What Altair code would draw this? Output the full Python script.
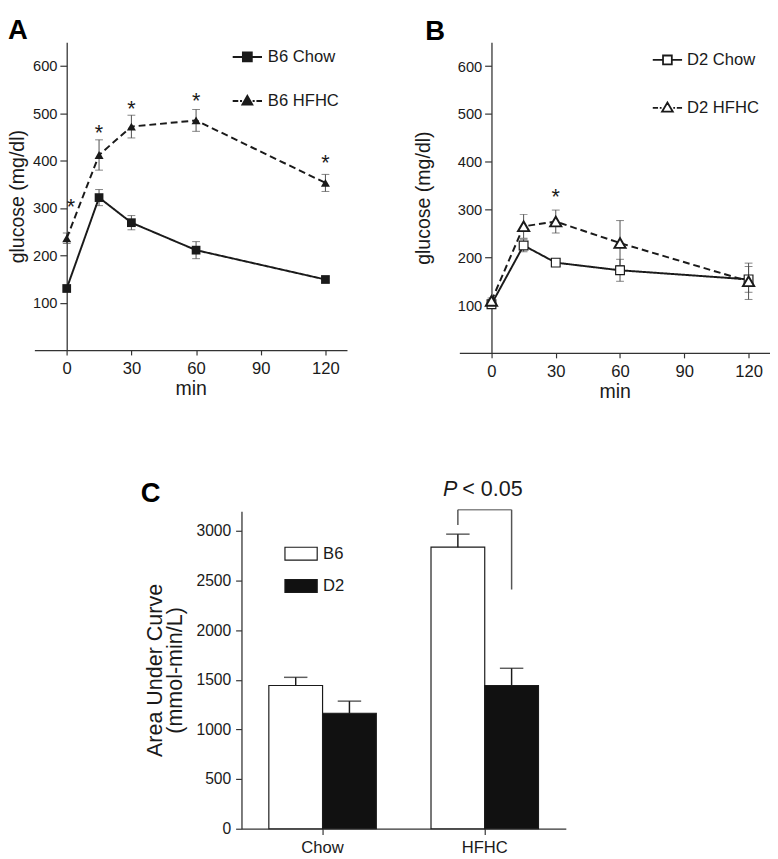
import altair as alt
import pandas as pd

FONT = "Liberation Sans"
INK = "#1a1a1a"
AXIS = "#333333"
ERR = "#4d4d4d"

# ---------------- data ----------------
time_min = [0, 15, 30, 60, 120]
minute_ticks = [0, 30, 60, 90, 120]
glucose_ticks = [100, 200, 300, 400, 500, 600]

b6_names = ["B6 Chow", "B6 HFHC"]
b6_chow = [130, 322, 269, 211, 149]
b6_chow_err = [5, 17, 15, 18, 6]
b6_hfhc = [236, 412, 472, 485, 353]
b6_hfhc_err = [11, 32, 24, 23, 18]
star_a_t = [2, 15, 30, 60, 120]
star_a_y = [315, 470, 522, 539, 408]

d2_names = ["D2 Chow", "D2 HFHC"]
d2_chow = [102, 225, 189, 173, 154]
d2_chow_err = [5, 13, 5, 23, 27]
d2_hfhc = [109, 265, 275, 230, 150]
d2_hfhc_err = [6, 25, 24, 47, 38]
star_b_t = [30]
star_b_y = [338]

diets = ["Chow", "HFHC"]
strains = ["B6", "D2"]
auc_b6 = [1444, 2838]
auc_b6_err = [82, 131]
auc_d2 = [1164, 1444]
auc_d2_err = [122, 173]
auc_ticks = [0, 500, 1000, 1500, 2000, 2500, 3000]
bracket_top = 3215
bracket_b6_end = 3061
bracket_d2_end = 2411
p_label_y = 3357

# legend symbols: line + marker drawn as one stroked path (filled markers hatched)
A_PATHS = [
    "M-1,0H-0.3M0.3,0H1M-0.3,-0.3H0.3V0.3H-0.3Z"
    "M-0.3,-0.2H0.3M-0.3,-0.1H0.3M-0.3,0H0.3M-0.3,0.1H0.3M-0.3,0.2H0.3",
    "M-1,0H-0.62M-0.5,0H-0.36M0.36,0H0.5M0.62,0H1M-0.33,0.25L0,-0.33L0.33,0.25Z"
    "M-0.07,-0.2H0.07M-0.13,-0.1H0.13M-0.19,0H0.19M-0.24,0.1H0.24M-0.3,0.2H0.3",
]
B_PATHS = [
    "M-1,0H-0.3M0.3,0H1M-0.3,-0.3H0.3V0.3H-0.3Z",
    "M-1,0H-0.64M-0.52,0H-0.4M0.4,0H0.52M0.64,0H1M-0.37,0.27L0,-0.36L0.37,0.27Z",
]


def axis_common(**kw):
    base = dict(grid=False, domainColor=AXIS, domainWidth=1.3, tickColor=AXIS,
                tickWidth=1.2, labelColor=INK, titleColor=INK, labelFont=FONT,
                titleFont=FONT, titleFontWeight="normal")
    base.update(kw)
    return alt.Axis(**base)


def glucose_panel(letter, names, means, errs, star_t, star_y, paths, filled_black,
                  w, h, letter_dx, y_title_pad, leg_x, leg_y, leg_rowpad, leg_offset,
                  pt_sizes, pt_strokes, leg_sw, title_offset):
    rows = []
    for name, m, e in zip(names, means, errs):
        for t, v, d in zip(time_min, m, e):
            rows.append({"series": name, "t": t, "v": v, "lo": v - d, "hi": v + d})
    df = pd.DataFrame(rows)
    stars = pd.DataFrame({"t": star_t, "v": star_y})
    x_off = round(15 / 145 * w, 1)

    def X(field):
        return alt.X(f"{field}:Q", title="min",
                     scale=alt.Scale(domain=[-15, 130], nice=False, zero=False),
                     axis=axis_common(values=minute_ticks, tickSize=5, labelPadding=6,
                                      labelFontSize=17, titleFontSize=20, titlePadding=3,
                                      labelFlush=False))

    def Y(field):
        return alt.Y(f"{field}:Q", title="glucose (mg/dl)",
                     scale=alt.Scale(domain=[0, 650], nice=False, zero=False),
                     axis=axis_common(values=glucose_ticks, offset=-x_off, tickSize=7,
                                      labelPadding=3, labelFontSize=15, titleFontSize=20,
                                      titlePadding=y_title_pad))

    base = alt.Chart(df)
    err_rule = base.mark_rule(color=ERR, strokeWidth=1).encode(
        x=X("t"), y=Y("lo"), y2="hi:Q")
    cap_lo = base.mark_tick(orient="horizontal", size=8, thickness=1, color=ERR).encode(
        x=X("t"), y=Y("lo"))
    cap_hi = base.mark_tick(orient="horizontal", size=8, thickness=1, color=ERR).encode(
        x=X("t"), y=Y("hi"))
    line = base.mark_line(color=INK, strokeWidth=2).encode(
        x=X("t"), y=Y("v"),
        strokeDash=alt.StrokeDash("series:N", scale=alt.Scale(domain=names, range=[[1, 0], [7, 4]]),
                                  legend=None))
    shape_enc = alt.Shape("series:N", scale=alt.Scale(domain=names, range=["square", "triangle-up"]),
                          legend=None)
    size_enc = alt.Size("series:N", scale=alt.Scale(domain=names, range=pt_sizes), legend=None)
    if filled_black:
        pts = base.mark_point(filled=True, color=INK, opacity=1).encode(
            x=X("t"), y=Y("v"), shape=shape_enc, size=size_enc)
    else:
        pts = base.mark_point(filled=True, fill="white", stroke=INK, opacity=1).encode(
            x=X("t"), y=Y("v"), shape=shape_enc, size=size_enc,
            strokeWidth=alt.StrokeWidth("series:N", scale=alt.Scale(domain=names, range=pt_strokes),
                                        legend=None))
    star = alt.Chart(stars).mark_text(text="*", fontSize=22, font=FONT, baseline="middle",
                                      dy=6, color=INK).encode(x=X("t"), y=Y("v"))
    leg = base.transform_filter("false").mark_point(
        filled=False, color=INK, strokeWidth=leg_sw, opacity=1).encode(
        shape=alt.Shape("series:N", scale=alt.Scale(domain=names, range=paths),
                        legend=alt.Legend(title=None, orient="none", legendX=leg_x, legendY=leg_y,
                                          symbolSize=900, rowPadding=leg_rowpad,
                                          labelOffset=leg_offset, labelFontSize=17,
                                          labelFont=FONT, labelColor=INK, padding=0,
                                          symbolStrokeColor=INK, symbolStrokeWidth=leg_sw,
                                          symbolOpacity=1)))
    return alt.layer(err_rule, cap_lo, cap_hi, line, pts, star, leg).resolve_scale(
        shape="independent").properties(
        width=w, height=h,
        title=alt.TitleParams(letter, anchor="start", frame="group", dx=letter_dx, fontSize=28,
                              fontWeight="bold", font=FONT, color="black",
                              baseline="alphabetic", offset=title_offset))


panel_a = glucose_panel("A", b6_names, [b6_chow, b6_hfhc], [b6_chow_err, b6_hfhc_err],
                        star_a_t, star_a_y, A_PATHS, True, 320, 315, -27, 5,
                        202, -1, 20, 5, [80, 85], [1, 1], 2, -26)
panel_b = glucose_panel("B", d2_names, [d2_chow, d2_hfhc], [d2_chow_err, d2_hfhc_err],
                        star_b_t, star_b_y, B_PATHS, False, 318, 318, -35, 24,
                        197, 2, 24, 4, [80, 130], [1.2, 2.0], 1.8, -26)

# ---------------- panel C ----------------
auc_rows = []
for i, d in enumerate(diets):
    auc_rows.append({"diet": d, "strain": strains[0], "val": auc_b6[i], "hi": auc_b6[i] + auc_b6_err[i]})
    auc_rows.append({"diet": d, "strain": strains[1], "val": auc_d2[i], "hi": auc_d2[i] + auc_d2_err[i]})
auc_df = pd.DataFrame(auc_rows)
bracket_df = pd.DataFrame({"diet": ["HFHC", "HFHC"], "strain": strains,
                           "y1": [bracket_b6_end, bracket_d2_end],
                           "y2": [bracket_top, bracket_top]})
bracket_top_df = pd.DataFrame({"diet": ["HFHC"], "y": [bracket_top]})
p_df = pd.DataFrame({"diet": ["HFHC"], "y": [p_label_y]})

XC = alt.X("diet:N", title=None,
           scale=alt.Scale(domain=diets, paddingInner=0, paddingOuter=0),
           axis=axis_common(labelAngle=0, tickSize=6, labelPadding=5, labelFontSize=17))
XO = alt.XOffset("strain:N", scale=alt.Scale(domain=strains, paddingInner=0, paddingOuter=0.509))


def YC(field):
    return alt.Y(f"{field}:Q", title=["Area Under Curve", "(mmol-min/L)"],
                 scale=alt.Scale(domain=[0, 3200], nice=False),
                 axis=axis_common(values=auc_ticks, format="d", tickSize=6, labelPadding=5,
                                  labelFontSize=16, titleFontSize=22, titleLineHeight=20,
                                  titlePadding=10))


bars = alt.Chart(auc_df).mark_bar(stroke=INK, strokeWidth=1.2).encode(
    x=XC, xOffset=XO, y=YC("val"),
    fill=alt.Fill("strain:N", scale=alt.Scale(domain=strains, range=["white", "#111111"]),
                  legend=alt.Legend(title=None, orient="none", legendX=43.5, legendY=26,
                                    symbolType="M-1,-0.4H1V0.4H-1Z", symbolSize=1089,
                                    symbolStrokeColor=INK, symbolStrokeWidth=1.2,
                                    labelFontSize=17, labelFont=FONT, labelColor=INK,
                                    labelOffset=5, rowPadding=6, padding=0)))
c_err = alt.Chart(auc_df).mark_rule(color=INK, strokeWidth=1.5).encode(
    x=XC, xOffset=XO, y=YC("val"), y2="hi:Q")
c_cap = alt.Chart(auc_df).mark_tick(orient="horizontal", size=24, thickness=1.5, color=INK).encode(
    x=XC, xOffset=XO, y=YC("hi"))
br_v = alt.Chart(bracket_df).mark_rule(color="#555555", strokeWidth=1.5).encode(
    x=XC, xOffset=XO, y=YC("y1"), y2="y2:Q")
br_h = alt.Chart(bracket_top_df).mark_tick(orient="horizontal", size=55, thickness=1.5,
                                           color="#555555").encode(x=XC, y=YC("y"))
p_it = alt.Chart(p_df).mark_text(text="P", fontStyle="italic", fontSize=22, font=FONT,
                                 align="right", baseline="alphabetic", dx=-28,
                                 color=INK).encode(x=XC, y=YC("y"))
p_rest = alt.Chart(p_df).mark_text(text="< 0.05", fontSize=22, font=FONT, align="left",
                                   baseline="alphabetic", dx=-23, color=INK).encode(x=XC, y=YC("y"))

panel_c = alt.layer(bars, c_err, c_cap, br_v, br_h, p_it, p_rest).properties(
    width=332, height=325,
    title=alt.TitleParams("C", anchor="start", frame="group", dx=-103, fontSize=28,
                          fontWeight="bold", font=FONT, color="black",
                          baseline="alphabetic", offset=-52))

spacer = alt.Chart(pd.DataFrame({"s": [0]})).mark_point(opacity=0).encode(
    x=alt.value(60), y=alt.value(5)).properties(width=109, height=10)

IND = dict(shape="independent", strokeDash="independent", size="independent",
           strokeWidth="independent", fill="independent")
top = alt.hconcat(panel_a, panel_b, spacing=68).resolve_scale(**IND).resolve_legend(
    shape="independent", fill="independent")
bottom = alt.hconcat(spacer, panel_c, spacing=0).resolve_scale(**IND).resolve_legend(
    shape="independent", fill="independent")
chart = alt.vconcat(top, bottom, spacing=78).resolve_scale(**IND).resolve_legend(
    shape="independent", fill="independent").properties(padding=0).configure(
    font=FONT).configure_view(strokeWidth=0)

chart.save("out.html", embed_options={"renderer": "svg", "actions": False})
